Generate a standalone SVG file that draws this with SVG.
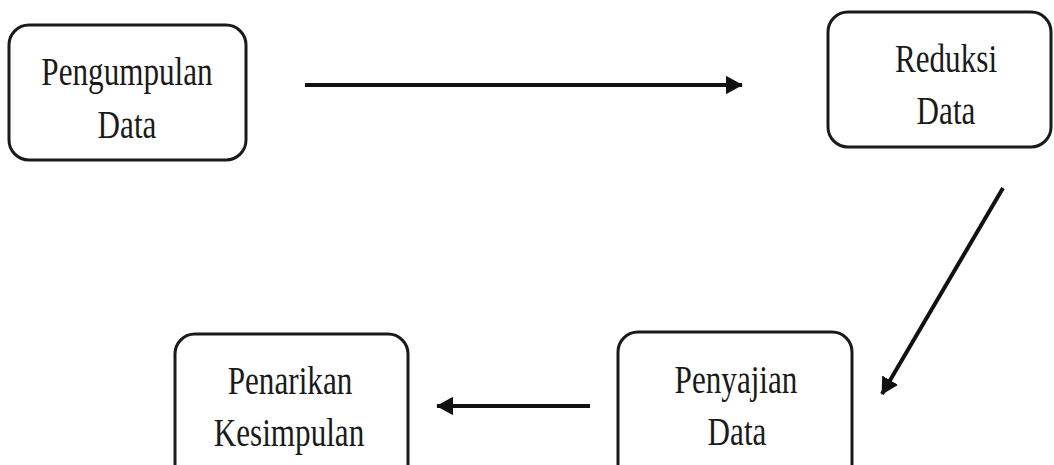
<svg xmlns="http://www.w3.org/2000/svg" width="1054" height="465" viewBox="0 0 1054 465">
<style>
.box{fill:#fff;stroke:#1a1a1a;stroke-width:3}
.lbl{font-family:"Liberation Serif","Times New Roman",serif;font-size:41px;fill:#1a1a1a;text-anchor:middle}
.con{stroke:#111;stroke-width:4;fill:none}
</style>
<defs>
<marker id="ah" markerWidth="4.2" markerHeight="4.6" refX="4" refY="2.3" orient="auto" markerUnits="strokeWidth">
<path d="M0,0 L4.2,2.3 L0,4.6 z" fill="#111"/>
</marker>
</defs>
<rect width="1054" height="465" fill="#fff"/>
<g id="connectors">
<line class="con" x1="305" y1="85" x2="742" y2="85" marker-end="url(#ah)"/>
<line class="con" x1="1003" y1="188" x2="882" y2="394" marker-end="url(#ah)"/>
<line class="con" x1="590" y1="406" x2="437" y2="406" marker-end="url(#ah)"/>
</g>
<g id="node-pengumpulan">
<rect class="box" x="9" y="25" width="237" height="135" rx="20"/>
<text class="lbl" transform="translate(127,85) scale(0.76,1)">Pengumpulan</text>
<text class="lbl" transform="translate(127,138) scale(0.76,1)">Data</text>
</g>
<g id="node-reduksi">
<rect class="box" x="828" y="12" width="223" height="135" rx="20"/>
<text class="lbl" transform="translate(946,72) scale(0.76,1)">Reduksi</text>
<text class="lbl" transform="translate(946,124) scale(0.76,1)">Data</text>
</g>
<g id="node-penyajian">
<rect class="box" x="618" y="332" width="234" height="160" rx="20"/>
<text class="lbl" transform="translate(736,393) scale(0.76,1)">Penyajian</text>
<text class="lbl" transform="translate(737,445) scale(0.76,1)">Data</text>
</g>
<g id="node-penarikan">
<rect class="box" x="175" y="334" width="233" height="160" rx="20"/>
<text class="lbl" transform="translate(290,394) scale(0.76,1)">Penarikan</text>
<text class="lbl" transform="translate(289,446) scale(0.76,1)">Kesimpulan</text>
</g>
</svg>
